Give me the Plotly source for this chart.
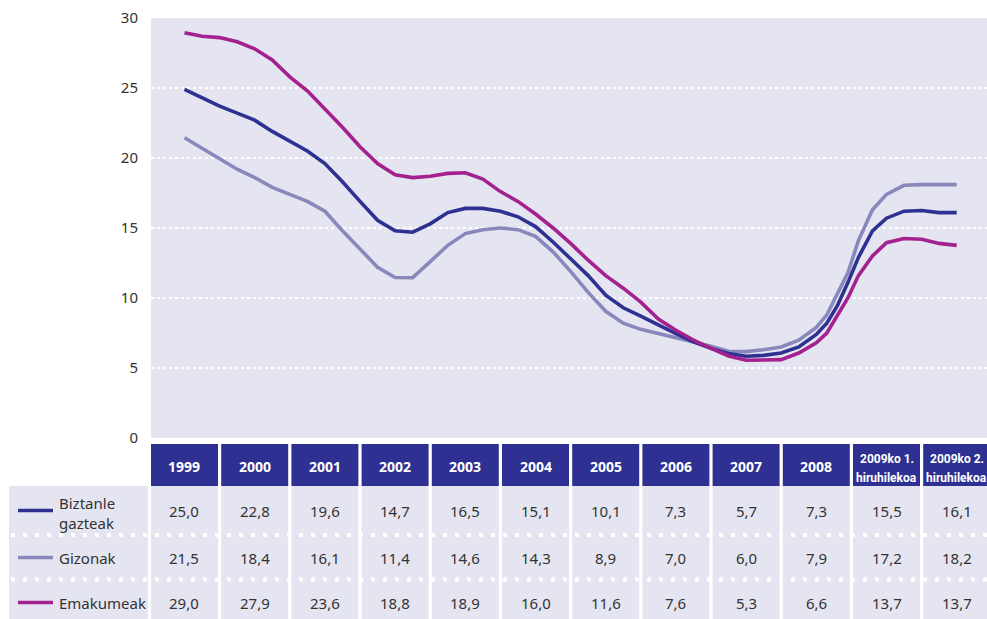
import plotly.graph_objects as go

# ---------------- data ----------------
columns = ["1999", "2000", "2001", "2002", "2003", "2004", "2005", "2006",
           "2007", "2008", "2009ko 1.<br>hiruhilekoa", "2009ko 2.<br>hiruhilekoa"]

series_names = ["Biztanle gazteak", "Gizonak", "Emakumeak"]

table_biztanle = ["25,0", "22,8", "19,6", "14,7", "16,5", "15,1", "10,1", "7,3", "5,7", "7,3", "15,5", "16,1"]
table_gizonak = ["21,5", "18,4", "16,1", "11,4", "14,6", "14,3", "8,9", "7,0", "6,0", "7,9", "17,2", "18,2"]
table_emakumeak = ["29,0", "27,9", "23,6", "18,8", "18,9", "16,0", "11,6", "7,6", "5,3", "6,6", "13,7", "13,7"]

# position of each observation on the column scale (0 = 1999 column, 11 = 2009 2nd quarter column)
period_pos = [0.0, 0.25, 0.5, 0.75, 1.0, 1.25, 1.5, 1.75, 2.0, 2.25, 2.5, 2.75,
              3.0, 3.25, 3.5, 3.75, 4.0, 4.25, 4.5, 4.75, 5.0, 5.25, 5.5, 5.75,
              6.0, 6.25, 6.5, 6.75, 7.0, 7.25, 7.5, 7.75, 8.0, 8.25, 8.5, 8.75,
              9.0, 9.15, 9.3, 9.45, 9.6, 9.8, 10.0, 10.25, 10.5, 10.75, 11.0]

biztanle = [24.9, 24.3, 23.7, 23.2, 22.7, 21.9, 21.2, 20.5, 19.6, 18.3, 16.9, 15.55,
            14.8, 14.7, 15.3, 16.1, 16.4, 16.4, 16.2, 15.8, 15.1, 14.0, 12.8, 11.6,
            10.2, 9.3, 8.7, 8.05, 7.45, 6.86, 6.4, 6.03, 5.84, 5.9, 6.07, 6.5,
            7.4, 8.2, 9.45, 11.1, 12.9, 14.8, 15.7, 16.2, 16.25, 16.1, 16.1]

gizonak = [21.45, 20.7, 19.9, 19.2, 18.6, 17.9, 17.4, 16.9, 16.2, 14.8, 13.5, 12.2,
           11.46, 11.45, 12.6, 13.76, 14.6, 14.88, 15.0, 14.88, 14.4, 13.3, 11.9, 10.4,
           9.05, 8.2, 7.76, 7.46, 7.17, 6.86, 6.55, 6.2, 6.17, 6.3, 6.5, 6.98,
           7.9, 8.8, 10.3, 11.8, 14.1, 16.3, 17.4, 18.05, 18.1, 18.1, 18.1]

emakumeak = [28.95, 28.7, 28.6, 28.3, 27.8, 27.0, 25.8, 24.8, 23.5, 22.2, 20.8, 19.6,
             18.8, 18.6, 18.7, 18.9, 18.95, 18.5, 17.6, 16.9, 16.0, 15.0, 13.9, 12.7,
             11.6, 10.7, 9.7, 8.5, 7.7, 7.0, 6.4, 5.86, 5.55, 5.55, 5.6, 6.07,
             6.8, 7.5, 8.7, 10.0, 11.6, 13.0, 13.95, 14.25, 14.2, 13.9, 13.76]

y_ticks = [0, 5, 10, 15, 20, 25, 30]

# ---------------- style ----------------
W, H = 987, 619
M_L, M_R, M_T, M_B = 151, 0, 18, 181
PLOT_W = W - M_L - M_R
PLOT_H = H - M_T - M_B
BG = "#e4e5f1"
DARK = "#2e3192"
LIGHT = "#8888bd"
MAGENTA = "#a3228f"
TXT = "#333333"
FONT = "Noto Sans, Open Sans, sans-serif"
colors = {"Biztanle gazteak": DARK, "Gizonak": LIGHT, "Emakumeak": MAGENTA}

X_MIN, X_MAX = -0.4772, 11.4316
HALF = 0.4772


def px_x(p):  # pixel -> paper x
    return (p - M_L) / PLOT_W


def px_y(p):  # pixel -> paper y
    return (H - M_B - p) / PLOT_H


def col_x(v):  # column scale -> paper x
    return (v - X_MIN) / (X_MAX - X_MIN)


def label(x, y, text, size=15, color=TXT, family=FONT, xanchor="center", align="center"):
    return dict(x=x, y=y, xref="paper", yref="paper", text=text, showarrow=False,
                xanchor=xanchor, yanchor="middle", align=align,
                font=dict(family=family, size=size, color=color))


fig = go.Figure()
series_vals = {"Biztanle gazteak": biztanle, "Gizonak": gizonak, "Emakumeak": emakumeak}
for name in ["Gizonak", "Biztanle gazteak", "Emakumeak"]:
    fig.add_trace(go.Scatter(x=period_pos, y=series_vals[name], mode="lines", name=name,
                             line=dict(color=colors[name], width=3.6), showlegend=False,
                             hoverinfo="skip"))

shapes = []
annotations = []

# header cells + body column cells
HEAD_TOP, HEAD_BOT = 444, 486
BODY_BOT = 625
for i, c in enumerate(columns):
    x0, x1 = col_x(i - HALF), col_x(i + HALF)
    shapes.append(dict(type="rect", xref="paper", yref="paper", x0=x0, x1=x1,
                       y0=px_y(HEAD_BOT), y1=px_y(HEAD_TOP), fillcolor=DARK, line_width=0,
                       layer="below"))
    shapes.append(dict(type="rect", xref="paper", yref="paper", x0=x0, x1=x1,
                       y0=px_y(BODY_BOT), y1=px_y(HEAD_BOT), fillcolor=BG, line_width=0,
                       layer="below"))
    if "<br>" in c:
        top, bot = c.split("<br>")
        annotations.append(label(col_x(i), px_y(459), "<b>%s</b>" % top, size=12,
                                 color="white", family="Roboto, sans-serif"))
        annotations.append(label(col_x(i), px_y(477.5), "<b>%s</b>" % bot, size=12,
                                 color="white", family="Roboto, sans-serif"))
    else:
        annotations.append(label(col_x(i), px_y(466), "<b>%s</b>" % c, size=14, color="white"))

# label column
shapes.append(dict(type="rect", xref="paper", yref="paper", x0=px_x(9), x1=px_x(148),
                   y0=px_y(BODY_BOT), y1=px_y(HEAD_BOT), fillcolor=BG, line_width=0,
                   layer="below"))

row_y = {"Biztanle gazteak": 510.5, "Gizonak": 557.5, "Emakumeak": 602.5}
row_vals = {"Biztanle gazteak": table_biztanle, "Gizonak": table_gizonak,
            "Emakumeak": table_emakumeak}

for name in series_names:
    yy = row_y[name]
    shapes.append(dict(type="line", xref="paper", yref="paper", x0=px_x(18), x1=px_x(53),
                       y0=px_y(yy), y1=px_y(yy), line=dict(color=colors[name], width=3.5)))
    if name == "Biztanle gazteak":
        annotations.append(label(px_x(57), px_y(512.5), "Biztanle<br>gazteak",
                                 xanchor="left", align="left"))
    else:
        annotations.append(label(px_x(57), px_y(yy), name, xanchor="left"))
    for i, v in enumerate(row_vals[name]):
        annotations.append(label(col_x(i), px_y(yy), v))

# dotted row separators
for yy in (535, 579.5):
    shapes.append(dict(type="line", xref="paper", yref="paper", x0=px_x(11), x1=px_x(990),
                       y0=px_y(yy), y1=px_y(yy),
                       line=dict(color="white", width=4, dash="4px,8px")))

fig.update_layout(
    width=W, height=H,
    margin=dict(l=M_L, r=M_R, t=M_T, b=M_B, pad=0, autoexpand=False),
    paper_bgcolor="white", plot_bgcolor=BG,
    shapes=shapes, annotations=annotations,
    xaxis=dict(range=[X_MIN, X_MAX], showgrid=False, zeroline=False, showticklabels=False,
               ticks="", showline=False, fixedrange=True, automargin=False),
    yaxis=dict(range=[0, 30], tickvals=y_ticks, showgrid=True, gridcolor="white",
               gridwidth=2, griddash="dot", zeroline=False, showline=False, ticks="",
               ticklabelstandoff=12, automargin=False,
               tickfont=dict(family=FONT, size=15, color=TXT), fixedrange=True),
    font=dict(family=FONT),
)

fig.write_html("out.html", config={"displayModeBar": False},
               post_script="document.body.style.margin='0px';document.body.style.overflow='hidden';")
